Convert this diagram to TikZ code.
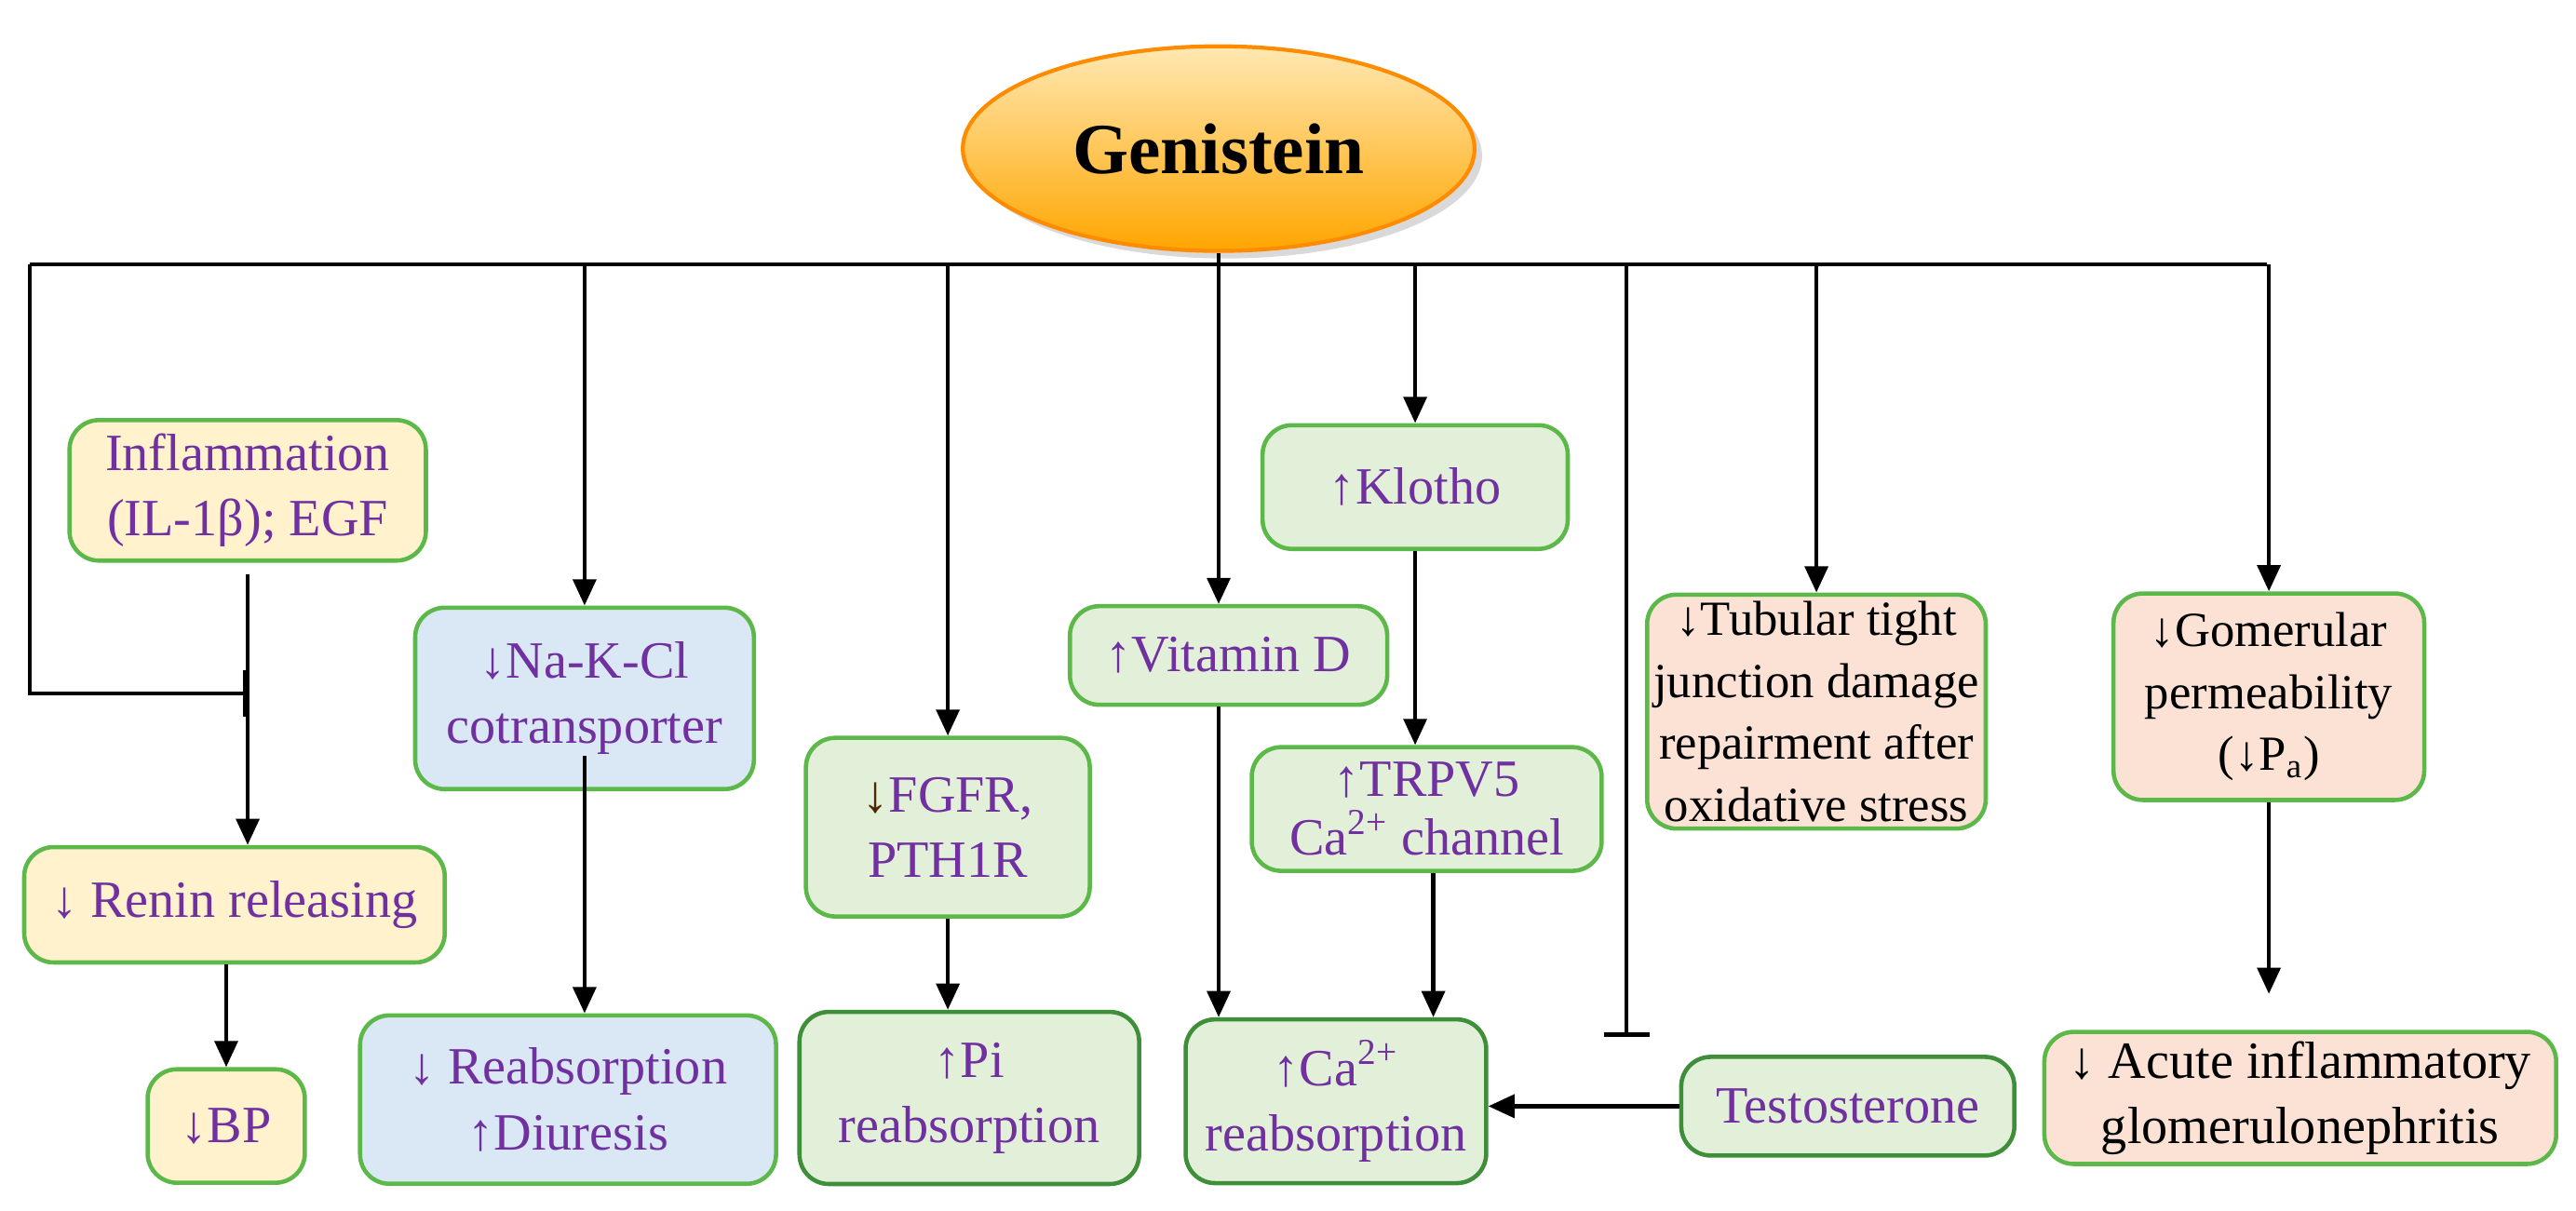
\documentclass[tikz,border=0pt]{standalone}
\usepackage{fontspec}
\setmainfont{Liberation Serif}
\usetikzlibrary{arrows.meta,shadows,calc,shapes.geometric}
\definecolor{txt}{HTML}{7030A0}
\definecolor{gb}{HTML}{5DB84A}
\definecolor{gbd}{HTML}{3E8E3A}
\definecolor{fy}{HTML}{FFF2CC}
\definecolor{fb}{HTML}{DAE8F6}
\definecolor{fg}{HTML}{E2F0D9}
\definecolor{fp}{HTML}{FBE2D4}
\begin{document}
\begin{tikzpicture}[x=0.01774cm,y=-0.01774cm,
  box/.style={draw=gb,line width=1.3pt,rounded corners=9pt,text=txt,align=center,font=\fontsize{16}{20}\selectfont,inner sep=2pt},
  yb/.style={box,fill=fy}, bb/.style={box,fill=fb}, gbx/.style={box,fill=fg}, pb/.style={box,fill=fp},
  ar/.style={line width=1.3pt,-{Triangle[length=8pt,width=7pt]}},
  inh/.style={line width=1.3pt,-{Bar[width=14pt]}},
  ln/.style={line width=1.3pt}]
\useasboundingbox (0,0) rectangle (1560,733);
\node[ellipse,draw=orange!90!yellow,line width=1.2pt,top color=yellow!40!orange!30,bottom color=orange!70!yellow,
  minimum width=5.5cm,minimum height=2.2cm,drop shadow={opacity=0.3},font=\fontsize{22}{26}\bfseries\selectfont] (gen) at (738,90) {Genistein};
\coordinate (bl) at (18,160);
\coordinate (br) at (1373,160);
\coordinate (bj) at (738,160);

\node[yb,minimum width=3.83cm,minimum height=1.51cm] (inf) at (150,297) {Inflammation\\(IL-1β); EGF};
\node[yb,minimum width=4.52cm,minimum height=1.24cm] (ren) at (142,548) {↓ Renin releasing};
\node[yb,minimum width=1.69cm,minimum height=1.22cm] (bp) at (137,682) {↓BP};
\node[bb,minimum width=3.64cm,minimum height=1.95cm] (na) at (354,423) {↓Na-K-Cl\\cotransporter};
\node[bb,minimum width=4.47cm,minimum height=1.81cm] (reab) at (344,666) {↓ Reabsorption\\↑Diuresis};
\node[gbx,minimum width=3.05cm,minimum height=1.92cm] (fgfr) at (574,501) {{\color{black!70!orange}↓}FGFR,\\PTH1R};
\node[gbx,draw=gbd,minimum width=3.65cm,minimum height=1.85cm] (pi) at (587,665) {↑Pi\\reabsorption};
\node[gbx,minimum width=3.41cm,minimum height=1.06cm] (vd) at (744,397) {↑Vitamin D};
\node[gbx,minimum width=3.28cm,minimum height=1.33cm] (kl) at (857,295) {↑Klotho};
\node[gbx,minimum width=3.76cm,minimum height=1.33cm,font=\fontsize{16}{18}\selectfont] (tr) at (864,490) {↑TRPV5\\Ca\textsuperscript{2+} channel};
\node[gbx,draw=gbd,minimum width=3.23cm,minimum height=1.76cm] (ca) at (809,667) {↑Ca\textsuperscript{2+}\\reabsorption};
\node[gbx,draw=gbd,minimum width=3.58cm,minimum height=1.06cm] (te) at (1119,670) {Testosterone};
\node[pb,minimum width=3.55cm,minimum height=2.45cm,text=black,font=\fontsize{15}{19}\selectfont] (tub) at (1100,431) {↓Tubular tight\\junction damage\\repairment after\\oxidative stress};
\node[pb,minimum width=3.34cm,minimum height=2.22cm,text=black,font=\fontsize{15}{19}\selectfont] (gom) at (1374,422) {↓Gomerular\\permeability\\(↓P\textsubscript{a})};
\node[pb,minimum width=5.5cm,minimum height=1.42cm,text=black] (ac) at (1393,665) {↓ Acute inflammatory\\glomerulonephritis};

\draw[ln] (gen.south) -- (bj);
\draw[ln] (bl) -- (br);
\draw[inh] (bl) -- (18,420) -- (inf.south |- 0,420);
\draw[ar] (inf.south |- 0,348) -- (inf.south |- ren.north);
\draw[ar] (ren.south -| bp.north) -- (bp.north);
\draw[ar] (na.north |- bl) -- (na.north);
\draw[ar] (na.south |- 0,458) -- (na.south |- reab.north);
\draw[ar] (fgfr.north |- bl) -- (fgfr.north);
\draw[ar] (fgfr.south) -- (fgfr.south |- pi.north);
\draw[ar] (bj) -- (bj |- vd.north);
\draw[ar] (bj |- vd.south) -- (bj |- ca.north);
\draw[ar] (kl.north |- bl) -- (kl.north);
\draw[ar] (kl.south) -- (kl.south |- tr.north);
\coordinate (c1) at (ca.north -| 868,0);
\draw[ar] (tr.south -| c1) -- (c1);
\draw[ar] (te.west) -- (te.west -| ca.east);
\draw[inh] (985,160) -- (985,628);
\draw[ar] (tub.north |- bl) -- (tub.north);
\draw[ar] (gom.north |- bl) -- (gom.north);
\draw[ar] (gom.south) -- (gom.south |- 0,602);
\end{tikzpicture}
\end{document}
